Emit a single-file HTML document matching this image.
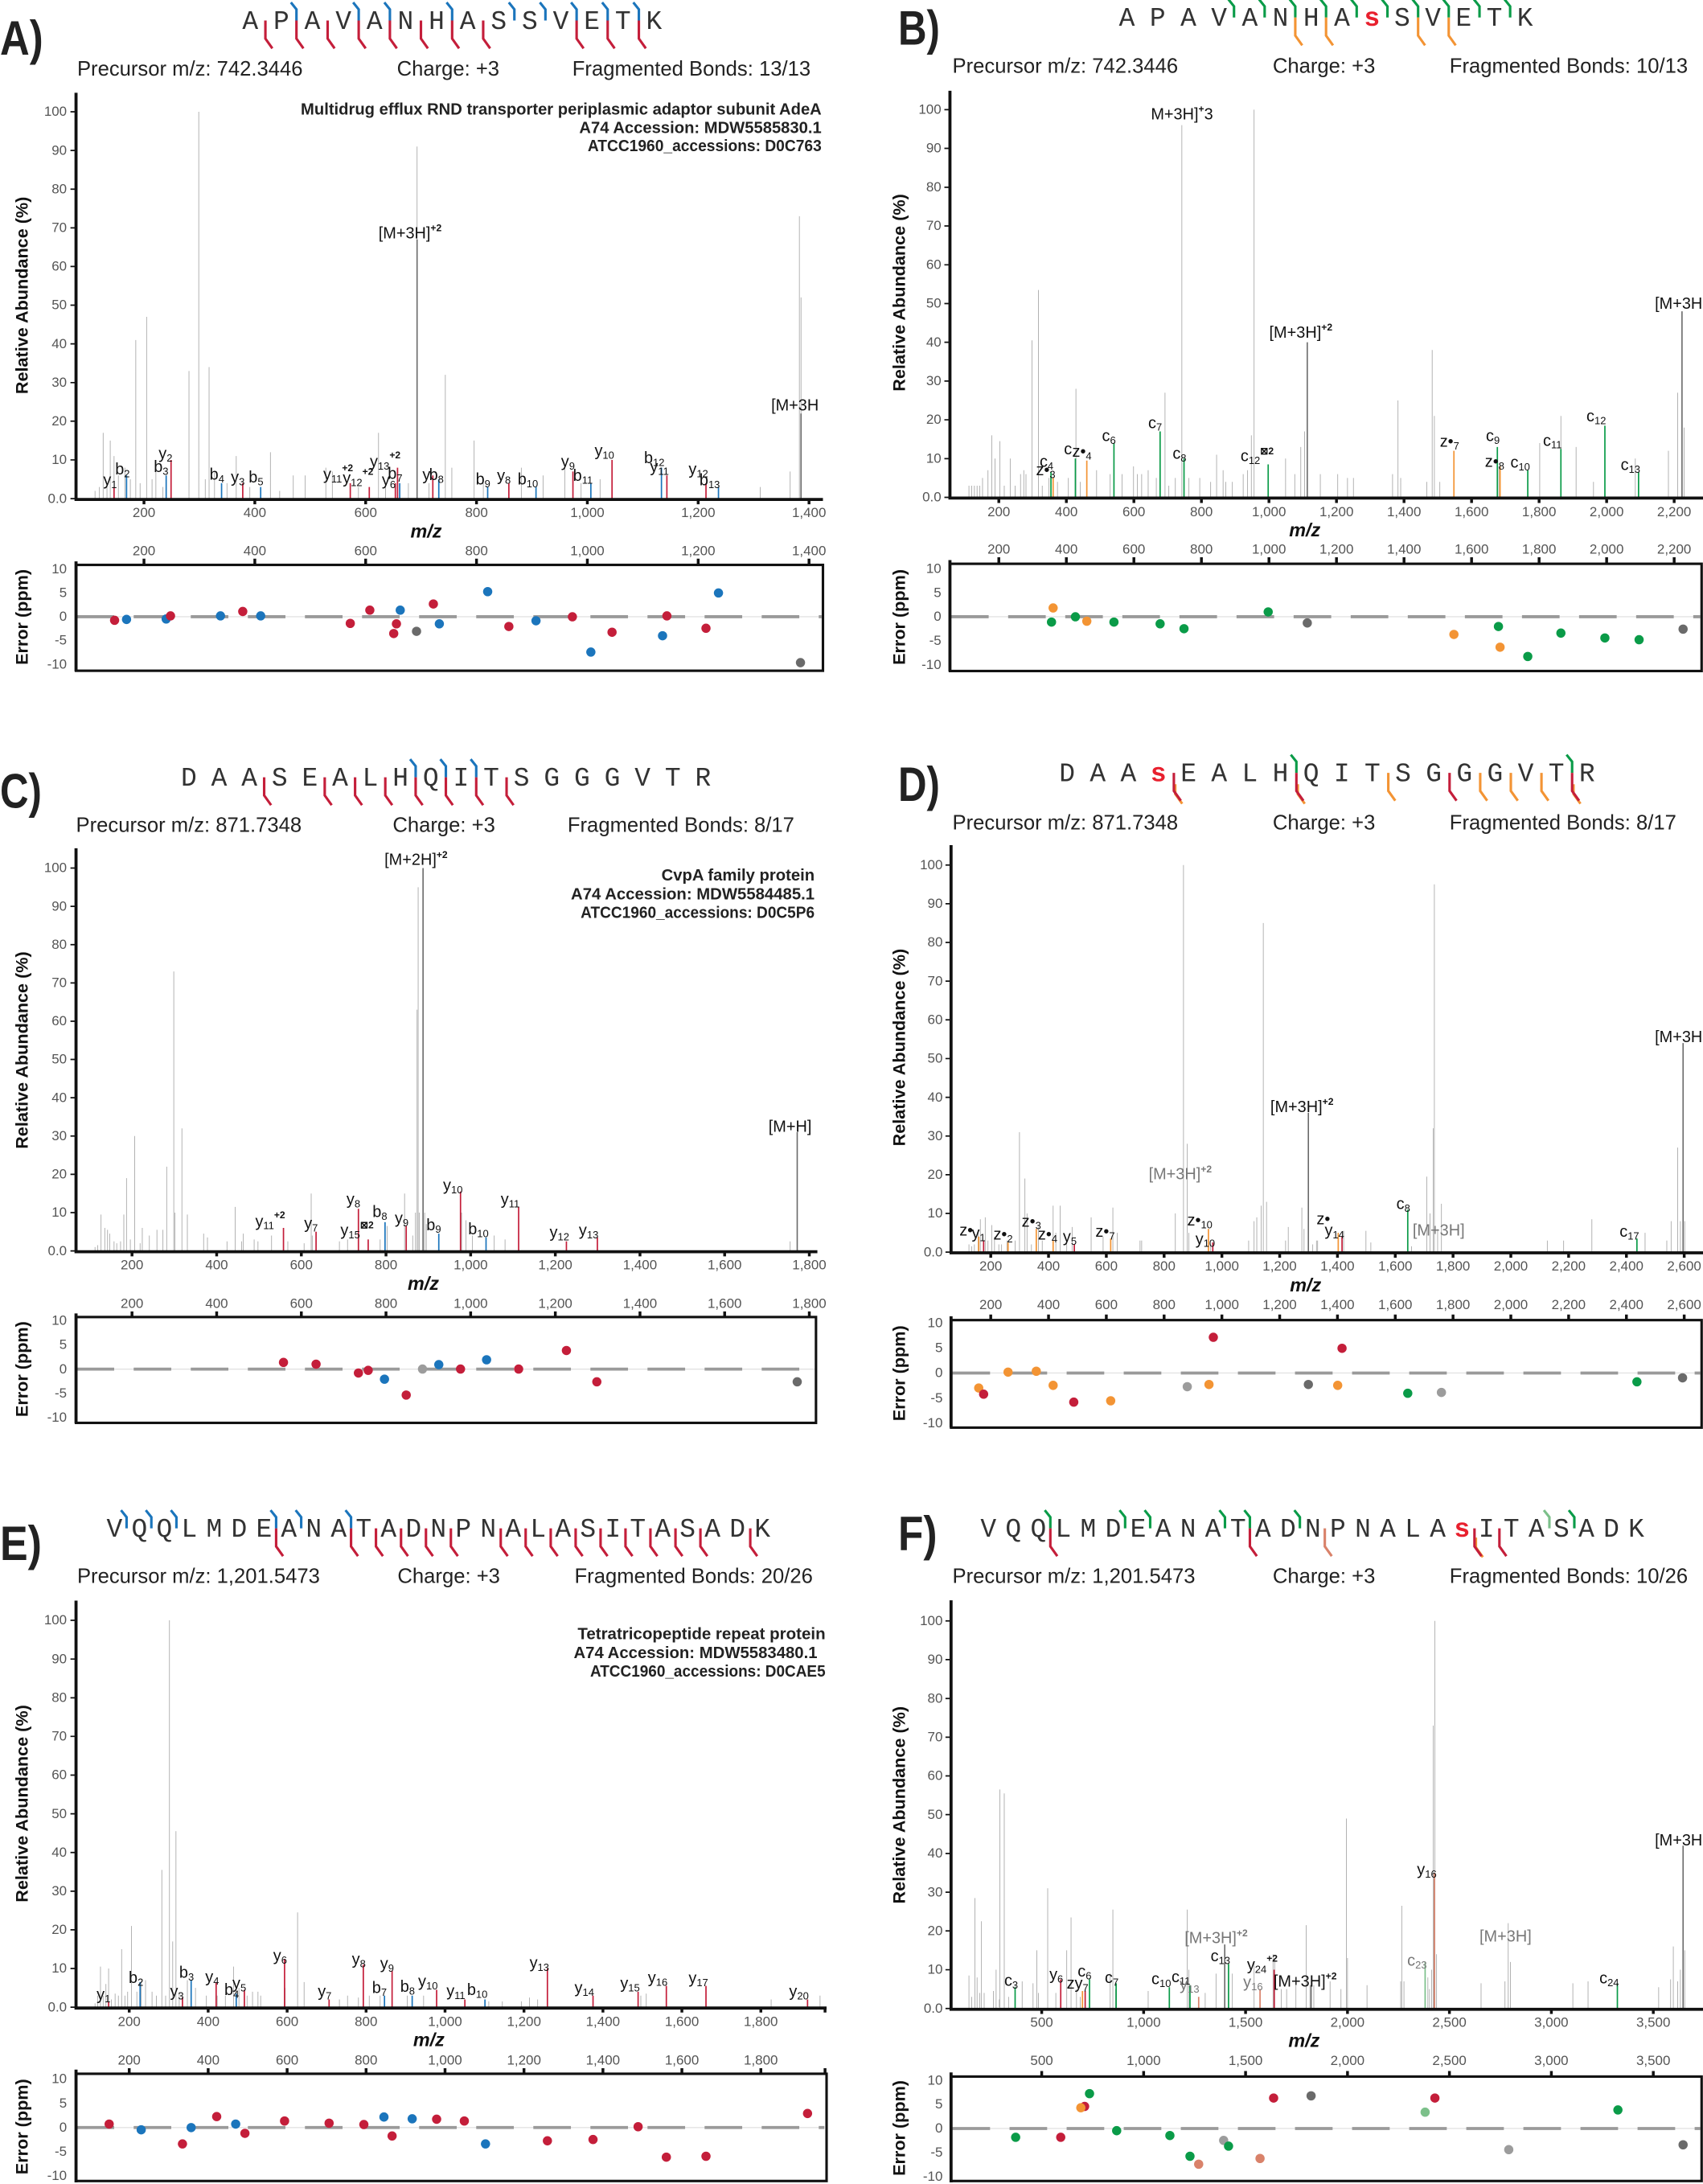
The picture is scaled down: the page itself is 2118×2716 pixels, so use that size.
<!DOCTYPE html>
<html><head><meta charset="utf-8"><style>
html,body{margin:0;padding:0;background:#fff}
svg{display:block}
text{font-family:"Liberation Sans",sans-serif}
.tk{font-size:9.8px;fill:#555}
.tke{font-size:9.8px;fill:#555;text-anchor:end}
.tkm{font-size:9.8px;fill:#555;text-anchor:middle}
.info{font-size:14.8px;fill:#222}
.ion{font-size:11.5px;fill:#111}
.s{font-size:7.5px}
.p{font-size:7px;font-weight:bold}
.seq{font-family:"Liberation Mono",monospace;font-size:19px;fill:#333}
.ps{font-family:"Liberation Sans",sans-serif;font-weight:bold;fill:#e8202e}
.ttl{font-size:12.5px;font-weight:bold;fill:#111;text-anchor:middle}
.mz{font-size:13.5px;font-weight:bold;font-style:italic;fill:#111;text-anchor:middle}
.pl{font-size:35px;font-weight:bold;fill:#222}
.prot{font-size:11.5px;font-weight:bold;fill:#222;text-anchor:end}
.gp{fill:none;stroke:#ababab;stroke-width:0.9}
.dp{fill:none;stroke:#6a6a6a;stroke-width:1.6}
.rp{fill:none;stroke:#c41e3a;stroke-width:1.7}
.bp{fill:none;stroke:#1b75bc;stroke-width:1.7}
.grp{fill:none;stroke:#0a9b48;stroke-width:1.7}
.op{fill:none;stroke:#f39434;stroke-width:1.7}
.sp{fill:none;stroke:#d9826a;stroke-width:1.7}
.lgp{fill:none;stroke:#7cc08a;stroke-width:1.7}
.mk{fill:none;stroke-width:1.8}
.ax{stroke:#111;stroke-width:2.2;fill:none}
.bx{stroke:#111;stroke-width:1.8;fill:none}
.zl{stroke:#9a9a9a;stroke-width:2.2;stroke-dasharray:27 14}
.zt{stroke:#e3e3e3;stroke-width:0.8}
.R{fill:#c41e3a}.B{fill:#1b75bc}.G{fill:#0a9b48}.O{fill:#f39434}.K{fill:#6a6a6a}.L{fill:#9c9c9c}.S{fill:#d9826a}.LG{fill:#7cc08a}
.gl{fill:#777}
</style></head><body>
<svg width="2118" height="2716" viewBox="0 0 1223 1568" xmlns="http://www.w3.org/2000/svg">

<!-- ================= PANEL A ================= -->
<text class="pl" x="0" y="39" textLength="31" lengthAdjust="spacingAndGlyphs">A)</text>
<text class="seq" x="174" y="20.6" textLength="301.4" lengthAdjust="spacing">A P A V A N H A S S V E T K</text>
<g class="mk" stroke="#1b75bc">
<path d="M212.9 14.6V6.6L208.9 1.6M257.6 14.6V6.6L253.6 1.6M280 14.6V6.6L276 1.6M324.7 14.6V6.6L320.7 1.6M369.4 14.6V6.6L365.4 1.6M391.7 14.6V6.6L387.7 1.6M414.1 14.6V6.6L410.1 1.6M436.4 14.6V6.6L432.4 1.6M458.8 14.6V6.6L454.8 1.6"/>
</g>
<g class="mk" stroke="#c41e3a">
<path d="M190.6 14.6V27.6L195.6 34.6M212.9 14.6V27.6L217.9 34.6M235.3 14.6V27.6L240.3 34.6M257.6 14.6V27.6L262.6 34.6M280 14.6V27.6L285 34.6M302.3 14.6V27.6L307.3 34.6M324.7 14.6V27.6L329.7 34.6M347 14.6V27.6L352 34.6M414.1 14.6V27.6L419.1 34.6M436.4 14.6V27.6L441.4 34.6M458.8 14.6V27.6L463.8 34.6"/>
</g>
<text class="info" x="55.4" y="54">Precursor m/z:  742.3446</text>
<text class="info" x="285" y="54">Charge: +3</text>
<text class="info" x="411" y="54">Fragmented Bonds: 13/13</text>
<text class="prot" x="590" y="82" textLength="374" lengthAdjust="spacingAndGlyphs">Multidrug efflux RND transporter periplasmic adaptor subunit AdeA</text>
<text class="prot" x="590" y="95.5" textLength="174" lengthAdjust="spacingAndGlyphs">A74 Accession: MDW5585830.1</text>
<text class="prot" x="590" y="108.5" textLength="168" lengthAdjust="spacingAndGlyphs">ATCC1960_accessions: D0C763</text>
<g transform="translate(0,357.9) scale(0.39,-2.778)">
<path vector-effect="non-scaling-stroke" class="gp" d="M175 0V2M183 0V3M190 0V17M197 0V4M203 0V15M210 0V11M218 0V6M230 0V8M240 0V5M250 0V41M258 0V4M270 0V47M280 0V5M287 0V10M300 0V3M348 0V33M366 0V100M378 0V5M385 0V34M395 0V7M418 0V4M435 0V11M460 0V3M498 0V12M515 0V2M540 0V6M562 0V6M600 0V8M612 0V7M660 0V3M697 0V17M710 0V3M752 0V4M768 0V91M790 0V4M820 0V32M832 0V8M873 0V15M890 0V4M960 0V8M1000 0V6M1040 0V8M1070 0V4M1105 0V5M1400 0V3M1455 0V7M1472 0V73M1475 0V52"/>
<path vector-effect="non-scaling-stroke" class="dp" d="M768 0V67M1475 0V22"/>
<path vector-effect="non-scaling-stroke" class="rp" d="M210 0V3M315 0V10M447 0V4M645 0V4M680 0V3M728 0V4M732 0V8M797 0V6M937 0V4M1055 0V7M1127 0V10M1228 0V6M1300 0V4"/>
<path vector-effect="non-scaling-stroke" class="bp" d="M233 0V6M306 0V6M408 0V4M480 0V3M736 0V4M808 0V5M898 0V3M987 0V3M1088 0V4M1218 0V8M1323 0V3"/>
</g>
<g class="ion">
<text x="74.1" y="348.4">y<tspan class="s" dy="2">1</tspan></text>
<text x="82.7" y="340.5">b<tspan class="s" dy="2">2</tspan></text>
<text x="110.4" y="338.9">b<tspan class="s" dy="2">3</tspan></text>
<text x="113.9" y="329.4">y<tspan class="s" dy="2">2</tspan></text>
<text x="150.5" y="344.2">b<tspan class="s" dy="2">4</tspan></text>
<text x="165.8" y="346.2">y<tspan class="s" dy="2">3</tspan></text>
<text x="178.6" y="346.2">b<tspan class="s" dy="2">5</tspan></text>
<text x="232.1" y="344.2">y<tspan class="s" dy="2">11</tspan><tspan class="p" dy="-8">+2</tspan></text>
<text x="246.1" y="346.8">y<tspan class="s" dy="2">12</tspan><tspan class="p" dy="-8">+2</tspan></text>
<text x="265.6" y="335.1">y<tspan class="s" dy="2">13</tspan><tspan class="p" dy="-8">+2</tspan></text>
<text x="274.2" y="348.4">y<tspan class="s" dy="2">6</tspan></text>
<text x="278.5" y="343.6">b<tspan class="s" dy="2">7</tspan></text>
<text x="303.4" y="344.6">y</text><text x="308.1" y="344.6">b<tspan class="s" dy="2">8</tspan></text>
<text x="341.6" y="347.7">b<tspan class="s" dy="2">9</tspan></text>
<text x="356.9" y="345.2">y<tspan class="s" dy="2">8</tspan></text>
<text x="371.7" y="347.7">b<tspan class="s" dy="2">10</tspan></text>
<text x="402.9" y="335.1">y<tspan class="s" dy="2">9</tspan></text>
<text x="411.5" y="345.2">b<tspan class="s" dy="2">11</tspan></text>
<text x="427" y="327.2">y<tspan class="s" dy="2">10</tspan></text>
<text x="462.5" y="332.5">b<tspan class="s" dy="2">12</tspan></text>
<text x="466.8" y="338.9">y<tspan class="s" dy="2">11</tspan></text>
<text x="494.5" y="340.5">y<tspan class="s" dy="2">12</tspan></text>
<text x="502.3" y="348.4">b<tspan class="s" dy="2">13</tspan></text>
<text x="271.8" y="171">[M+3H]<tspan class="p" dy="-5">+2</tspan></text>
<text x="553.8" y="294.5">[M+3H</text>
</g>
<path class="ax" d="M54.6 66.5V358.5H591"/>
<path stroke="#111" stroke-width="1" d="M50.6 357.9H54.6M50.6 330.1H54.6M50.6 302.3H54.6M50.6 274.6H54.6M50.6 246.8H54.6M50.6 219H54.6M50.6 191.2H54.6M50.6 163.5H54.6M50.6 135.7H54.6M50.6 107.9H54.6M50.6 80.1H54.6"/>
<g class="tke"><text x="48" y="361">0.0</text><text x="48" y="333">10</text><text x="48" y="305.3">20</text><text x="48" y="277.6">30</text><text x="48" y="249.8">40</text><text x="48" y="222">50</text><text x="48" y="194.2">60</text><text x="48" y="166.5">70</text><text x="48" y="138.7">80</text><text x="48" y="110.9">90</text><text x="48" y="83.1">100</text></g>
<path stroke="#111" stroke-width="2" d="M103.4 358V362M183 358V362M262.6 358V362M342.2 358V362M421.8 358V362M501.4 358V362M581 358V362M103.4 401V405M183 401V405M262.6 401V405M342.2 401V405M421.8 401V405M501.4 401V405M581 401V405"/>
<g class="tkm"><text x="103.4" y="371">200</text><text x="183" y="371">400</text><text x="262.6" y="371">600</text><text x="342.2" y="371">800</text><text x="421.8" y="371">1,000</text><text x="501.4" y="371">1,200</text><text x="581" y="371">1,400</text>
<text x="103.4" y="398.5">200</text><text x="183" y="398.5">400</text><text x="262.6" y="398.5">600</text><text x="342.2" y="398.5">800</text><text x="421.8" y="398.5">1,000</text><text x="501.4" y="398.5">1,200</text><text x="581" y="398.5">1,400</text></g>
<text class="mz" x="306" y="386">m/z</text>
<text class="ttl" transform="translate(20,212) rotate(-90)">Relative Abundance (%)</text>
<text class="ttl" transform="translate(20,443) rotate(-90)">Error (ppm)</text>
<line class="zt" x1="55" y1="442.7" x2="590" y2="442.7"/>
<line class="zl" x1="55" y1="442.7" x2="590" y2="442.7"/>
<rect class="bx" x="54.6" y="405.5" width="536.4" height="76"/>
<path class="ax" d="M54.6 403V482"/>
<g class="tke"><text x="48" y="411.5">10</text><text x="48" y="428.6">5</text><text x="48" y="445.7">0</text><text x="48" y="462.8">-5</text><text x="48" y="479.9">-10</text></g>
<g transform="translate(0,0) scale(0.39,0.3167)">
<ellipse class="R" cx="211" cy="1406" rx="8.5" ry="10.5"/><ellipse class="B" cx="233" cy="1404" rx="8.5" ry="10.5"/><ellipse class="B" cx="306" cy="1403" rx="8.5" ry="10.5"/><ellipse class="R" cx="314" cy="1396" rx="8.5" ry="10.5"/><ellipse class="B" cx="406" cy="1396" rx="8.5" ry="10.5"/><ellipse class="R" cx="447" cy="1386" rx="8.5" ry="10.5"/><ellipse class="B" cx="480" cy="1396" rx="8.5" ry="10.5"/><ellipse class="R" cx="645" cy="1413" rx="8.5" ry="10.5"/><ellipse class="R" cx="681" cy="1383" rx="8.5" ry="10.5"/><ellipse class="B" cx="737" cy="1383" rx="8.5" ry="10.5"/><ellipse class="R" cx="730" cy="1414" rx="8.5" ry="10.5"/><ellipse class="R" cx="725" cy="1436" rx="8.5" ry="10.5"/><ellipse class="K" cx="767" cy="1431" rx="8.5" ry="10.5"/><ellipse class="R" cx="798" cy="1369" rx="8.5" ry="10.5"/><ellipse class="B" cx="809" cy="1414" rx="8.5" ry="10.5"/><ellipse class="B" cx="898" cy="1341" rx="8.5" ry="10.5"/><ellipse class="R" cx="937" cy="1420" rx="8.5" ry="10.5"/><ellipse class="B" cx="987" cy="1407" rx="8.5" ry="10.5"/><ellipse class="R" cx="1054" cy="1398" rx="8.5" ry="10.5"/><ellipse class="B" cx="1088" cy="1478" rx="8.5" ry="10.5"/><ellipse class="R" cx="1127" cy="1433" rx="8.5" ry="10.5"/><ellipse class="B" cx="1220" cy="1441" rx="8.5" ry="10.5"/><ellipse class="R" cx="1228" cy="1396" rx="8.5" ry="10.5"/><ellipse class="R" cx="1300" cy="1424" rx="8.5" ry="10.5"/><ellipse class="B" cx="1323" cy="1344" rx="8.5" ry="10.5"/><ellipse class="K" cx="1474" cy="1502" rx="8.5" ry="10.5"/>
</g>

<!-- ================= PANEL B ================= -->
<text class="pl" x="645" y="32" textLength="30" lengthAdjust="spacingAndGlyphs">B)</text>
<text class="seq" x="803.6" y="18.4" textLength="297.3" lengthAdjust="spacing">A P A V A N H A <tspan class="ps">s</tspan> S V E T K</text>
<g class="mk" stroke="#0a9b48">
<path d="M886.2 12.4V4.4L882.2 -0.6M908.2 12.4V4.4L904.2 -0.6M930.2 12.4V4.4L926.2 -0.6M952.3 12.4V4.4L948.3 -0.6M974.3 12.4V4.4L970.3 -0.6M996.4 12.4V4.4L992.4 -0.6M1018.4 12.4V4.4L1014.4 -0.6M1040.4 12.4V4.4L1036.4 -0.6M1062.5 12.4V4.4L1058.5 -0.6M1084.5 12.4V4.4L1080.5 -0.6"/>
</g>
<g class="mk" stroke="#f39434">
<path d="M930.2 12.4V25.4L935.2 32.4M952.3 12.4V25.4L957.3 32.4M1018.4 12.4V25.4L1023.4 32.4M1040.4 12.4V25.4L1045.4 32.4"/>
</g>
<text class="info" x="684" y="52">Precursor m/z:  742.3446</text>
<text class="info" x="914" y="52">Charge: +3</text>
<text class="info" x="1041" y="52">Fragmented Bonds: 10/13</text>
<g transform="translate(612,357) scale(0.39,-2.784)">
<path vector-effect="non-scaling-stroke" class="gp" d="M215 0V3M220 0V3M225 0V3M230 0V3M235 0V3M240 0V5M250 0V7M257 0V16M263 0V10M272 0V14.5M280 0V3M291 0V10M300 0V3M310 0V6M316 0V7M320 0V6M331 0V40.5M343 0V53.5M350 0V3M362 0V5M378 0V4M398 0V5M412 0V28M420 0V4M450 0V7M475 0V6M497 0V6M518 0V8M525 0V6M533 0V6M545 0V7M560 0V5M576 0V27M583 0V3M595 0V5M607 0V96M620 0V5M640 0V5M660 0V4M671 0V11M683 0V7M688 0V4M700 0V4M720 0V6M728 0V7M735 0V16M740 0V100M798 0V10M815 0V6M826 0V13M833 0V17M862 0V6M894 0V6M912 0V5M923 0V5M995 0V6M1005 0V25M1010 0V5M1058 0V4M1068 0V38M1072 0V21M1082 0V4M1191 0V8M1266 0V14M1305 0V21M1333 0V13M1365 0V4M1442 0V10M1503 0V12M1520 0V27M1532 0V18"/>
<path vector-effect="non-scaling-stroke" class="dp" d="M838 0V40M1528 0V48"/>
<path vector-effect="non-scaling-stroke" class="grp" d="M366 0V6.5M411 0V10M482 0V14M567 0V17M611 0V10M766 0V8.5M1188 0V13M1244 0V7M1305 0V12.5M1386 0V18.5M1448 0V6.5"/>
<path vector-effect="non-scaling-stroke" class="op" d="M370 0V5M432 0V9.5M1108 0V12M1193 0V8"/>
</g>
<g class="ion">
<text x="746.6" y="335.1">c<tspan class="s" dy="2">4</tspan></text>
<text x="744" y="341">z•<tspan class="s" dy="2">3</tspan></text>
<text x="764.1" y="326.2">c</text><text x="770" y="327.8">z•<tspan class="s" dy="2">4</tspan></text>
<text x="791.4" y="316.7">c<tspan class="s" dy="2">6</tspan></text>
<text x="824.6" y="307.2">c<tspan class="s" dy="2">7</tspan></text>
<text x="842.1" y="329.4">c<tspan class="s" dy="2">8</tspan></text>
<text x="890.9" y="331">c<tspan class="s" dy="2">12</tspan><tspan class="p" dy="-7">⊠2</tspan></text>
<text x="1034" y="320.5">z•<tspan class="s" dy="2">7</tspan></text>
<text x="1067.1" y="316.7">c<tspan class="s" dy="2">9</tspan></text>
<text x="1066.4" y="335.1">z•<tspan class="s" dy="2">8</tspan></text>
<text x="1084.7" y="335.7">c<tspan class="s" dy="2">10</tspan></text>
<text x="1108.1" y="319.9">c<tspan class="s" dy="2">11</tspan></text>
<text x="1139.3" y="302.4">c<tspan class="s" dy="2">12</tspan></text>
<text x="1163.9" y="337.3">c<tspan class="s" dy="2">13</tspan></text>
<text x="826.5" y="85.5">M+3H]<tspan class="p" dy="-5">+</tspan><tspan dy="5">3</tspan></text>
<text x="911.5" y="242.3">[M+3H]<tspan class="p" dy="-5">+2</tspan></text>
<text x="1188.4" y="221.7">[M+3H</text>
</g>
<path class="ax" d="M682.2 65V357.5H1223"/>
<path stroke="#111" stroke-width="1" d="M678.2 357H682.2M678.2 329.2H682.2M678.2 301.3H682.2M678.2 273.5H682.2M678.2 245.6H682.2M678.2 217.8H682.2M678.2 190H682.2M678.2 162.1H682.2M678.2 134.3H682.2M678.2 106.4H682.2M678.2 78.6H682.2"/>
<g class="tke"><text x="676" y="360">0.0</text><text x="676" y="332.2">10</text><text x="676" y="304.3">20</text><text x="676" y="276.5">30</text><text x="676" y="248.6">40</text><text x="676" y="220.8">50</text><text x="676" y="193">60</text><text x="676" y="165.1">70</text><text x="676" y="137.3">80</text><text x="676" y="109.4">90</text><text x="676" y="81.6">100</text></g>
<path stroke="#111" stroke-width="2" d="M717.3 357V361M765.8 357V361M814.3 357V361M862.8 357V361M911.3 357V361M959.8 357V361M1008.3 357V361M1056.8 357V361M1105.3 357V361M1153.8 357V361M1202.3 357V361M717.3 400V404M765.8 400V404M814.3 400V404M862.8 400V404M911.3 400V404M959.8 400V404M1008.3 400V404M1056.8 400V404M1105.3 400V404M1153.8 400V404M1202.3 400V404"/>
<g class="tkm"><text x="717.3" y="370.5">200</text><text x="765.8" y="370.5">400</text><text x="814.3" y="370.5">600</text><text x="862.8" y="370.5">800</text><text x="911.3" y="370.5">1,000</text><text x="959.8" y="370.5">1,200</text><text x="1008.3" y="370.5">1,400</text><text x="1056.8" y="370.5">1,600</text><text x="1105.3" y="370.5">1,800</text><text x="1153.8" y="370.5">2,000</text><text x="1202.3" y="370.5">2,200</text>
<text x="717.3" y="397.5">200</text><text x="765.8" y="397.5">400</text><text x="814.3" y="397.5">600</text><text x="862.8" y="397.5">800</text><text x="911.3" y="397.5">1,000</text><text x="959.8" y="397.5">1,200</text><text x="1008.3" y="397.5">1,400</text><text x="1056.8" y="397.5">1,600</text><text x="1105.3" y="397.5">1,800</text><text x="1153.8" y="397.5">2,000</text><text x="1202.3" y="397.5">2,200</text></g>
<text class="mz" x="937" y="385">m/z</text>
<text class="ttl" transform="translate(650,210) rotate(-90)">Relative Abundance (%)</text>
<text class="ttl" transform="translate(650,443) rotate(-90)">Error (ppm)</text>
<line class="zt" x1="683" y1="442.7" x2="1221" y2="442.7"/>
<line class="zl" x1="683" y1="442.7" x2="1221" y2="442.7"/>
<rect class="bx" x="682.2" y="404.7" width="539.8" height="77"/>
<path class="ax" d="M682.2 402V482"/>
<g class="tke"><text x="676" y="411.2">10</text><text x="676" y="428.5">5</text><text x="676" y="445.7">0</text><text x="676" y="463">-5</text><text x="676" y="480.2">-10</text></g>
<g transform="translate(612,0) scale(0.39,0.3167)">
<ellipse class="O" cx="370" cy="1378" rx="8.5" ry="10.5"/><ellipse class="G" cx="367" cy="1410" rx="8.5" ry="10.5"/><ellipse class="G" cx="411" cy="1398" rx="8.5" ry="10.5"/><ellipse class="O" cx="432" cy="1408" rx="8.5" ry="10.5"/><ellipse class="G" cx="482" cy="1410" rx="8.5" ry="10.5"/><ellipse class="G" cx="567" cy="1414" rx="8.5" ry="10.5"/><ellipse class="G" cx="611" cy="1425" rx="8.5" ry="10.5"/><ellipse class="G" cx="766" cy="1387" rx="8.5" ry="10.5"/><ellipse class="K" cx="838" cy="1412" rx="8.5" ry="10.5"/><ellipse class="O" cx="1108" cy="1438" rx="8.5" ry="10.5"/><ellipse class="G" cx="1190" cy="1420" rx="8.5" ry="10.5"/><ellipse class="O" cx="1193" cy="1467" rx="8.5" ry="10.5"/><ellipse class="G" cx="1244" cy="1488" rx="8.5" ry="10.5"/><ellipse class="G" cx="1305" cy="1435" rx="8.5" ry="10.5"/><ellipse class="G" cx="1386" cy="1446" rx="8.5" ry="10.5"/><ellipse class="G" cx="1449" cy="1450" rx="8.5" ry="10.5"/><ellipse class="K" cx="1530" cy="1426" rx="8.5" ry="10.5"/>
</g>

<!-- ================= PANEL C ================= -->
<text class="pl" x="0" y="580" textLength="30" lengthAdjust="spacingAndGlyphs">C)</text>
<text class="seq" x="129.9" y="564" textLength="380.7" lengthAdjust="spacing">D A A S E A L H Q I T S G G G V T R</text>
<g class="mk" stroke="#1b75bc"><path d="M298.5 558V550L294.5 545M320.2 558V550L316.2 545M342 558V550L338 545"/></g>
<g class="mk" stroke="#c41e3a"><path d="M189.7 558V571L194.7 578M233.2 558V571L238.2 578M255 558V571L260 578M276.7 558V571L281.7 578M298.5 558V571L303.5 578M320.2 558V571L325.2 578M342 558V571L347 578M363.8 558V571L368.8 578"/></g>
<text class="info" x="54.6" y="597.2">Precursor m/z:  871.7348</text>
<text class="info" x="282" y="597.2">Charge: +3</text>
<text class="info" x="407.6" y="597.2">Fragmented Bonds: 8/17</text>
<text class="prot" x="585" y="632" textLength="110" lengthAdjust="spacingAndGlyphs">CvpA family protein</text>
<text class="prot" x="585" y="645.6" textLength="175" lengthAdjust="spacingAndGlyphs">A74 Accession: MDW5584485.1</text>
<text class="prot" x="585" y="659" textLength="168" lengthAdjust="spacingAndGlyphs">ATCC1960_accessions: D0C5P6</text>
<g transform="translate(0,898.1) scale(0.39,-2.749)">
<path vector-effect="non-scaling-stroke" class="gp" d="M175 0V1M180 0V1.5M186 0V9.5M193 0V6M198 0V5.5M202 0V4.5M210 0V2.5M215 0V2M222 0V2.5M228 0V9.5M233 0V19M240 0V3M248 0V30M258 0V2M262 0V6M275 0V4M289 0V5.5M300 0V5.5M307 0V22M320 0V73M322 0V10M335 0V32M345 0V9.5M375 0V4.5M382 0V3.5M418 0V2.5M433 0V11.5M445 0V2.5M448 0V4.5M468 0V3M475 0V2.5M500 0V4M530 0V2.5M560 0V2M573 0V15M575 0V4M625 0V2.5M640 0V3M700 0V3M713 0V6.5M745 0V15M760 0V4M765 0V10M768 0V63M770 0V95M772 0V10M782 0V10M785 0V7M850 0V10M858 0V8M870 0V4M910 0V4M930 0V3M1455 0V2.5"/>
<path vector-effect="non-scaling-stroke" class="dp" d="M779 0V100M1468 0V31"/>
<path vector-effect="non-scaling-stroke" class="rp" d="M522 0V6M582 0V5M660 0V11M678 0V3M748 0V6.5M848 0V15.5M955 0V11.5M1043 0V2.5M1100 0V3.5"/>
<path vector-effect="non-scaling-stroke" class="bp" d="M709 0V7.5M808 0V4.5M895 0V3.5"/>
</g>
<g class="ion">
<text x="183.3" y="880.6">y<tspan class="s" dy="2">11</tspan><tspan class="p" dy="-8">+2</tspan></text>
<text x="218.4" y="882.2">y<tspan class="s" dy="2">7</tspan></text>
<text x="248.8" y="864.8">y<tspan class="s" dy="2">8</tspan></text>
<text x="244.5" y="887">y<tspan class="s" dy="2">15</tspan><tspan class="p" dy="-7">⊠2</tspan></text>
<text x="267.5" y="873.7">b<tspan class="s" dy="2">8</tspan></text>
<text x="283.5" y="878.4">y<tspan class="s" dy="2">9</tspan></text>
<text x="306.2" y="883.2">b<tspan class="s" dy="2">9</tspan></text>
<text x="318.2" y="854.7">y<tspan class="s" dy="2">10</tspan></text>
<text x="336.2" y="886.3">b<tspan class="s" dy="2">10</tspan></text>
<text x="359.6" y="864.8">y<tspan class="s" dy="2">11</tspan></text>
<text x="394.7" y="888.6">y<tspan class="s" dy="2">12</tspan></text>
<text x="415.7" y="887">y<tspan class="s" dy="2">13</tspan></text>
<text x="276.1" y="620.9">[M+2H]<tspan class="p" dy="-5">+2</tspan></text>
<text x="551.9" y="812.6">[M+H]</text>
</g>
<path class="ax" d="M54.6 609V898.7H587"/>
<path stroke="#111" stroke-width="1" d="M50.6 898.1H54.6M50.6 870.6H54.6M50.6 843.1H54.6M50.6 815.6H54.6M50.6 788.1H54.6M50.6 760.6H54.6M50.6 733.2H54.6M50.6 705.7H54.6M50.6 678.2H54.6M50.6 650.7H54.6M50.6 623.2H54.6"/>
<g class="tke"><text x="48" y="901.1">0.0</text><text x="48" y="873.6">10</text><text x="48" y="846.1">20</text><text x="48" y="818.6">30</text><text x="48" y="791.1">40</text><text x="48" y="763.6">50</text><text x="48" y="736.2">60</text><text x="48" y="708.7">70</text><text x="48" y="681.2">80</text><text x="48" y="653.7">90</text><text x="48" y="626.2">100</text></g>
<path stroke="#111" stroke-width="2" d="M94.8 898V902M155.6 898V902M216.4 898V902M277.2 898V902M338 898V902M398.8 898V902M459.6 898V902M520.4 898V902M581.2 898V902M94.8 941.6V945.6M155.6 941.6V945.6M216.4 941.6V945.6M277.2 941.6V945.6M338 941.6V945.6M398.8 941.6V945.6M459.6 941.6V945.6M520.4 941.6V945.6M581.2 941.6V945.6"/>
<g class="tkm"><text x="94.8" y="911.4">200</text><text x="155.6" y="911.4">400</text><text x="216.4" y="911.4">600</text><text x="277.2" y="911.4">800</text><text x="338" y="911.4">1,000</text><text x="398.8" y="911.4">1,200</text><text x="459.6" y="911.4">1,400</text><text x="520.4" y="911.4">1,600</text><text x="581.2" y="911.4">1,800</text>
<text x="94.8" y="939">200</text><text x="155.6" y="939">400</text><text x="216.4" y="939">600</text><text x="277.2" y="939">800</text><text x="338" y="939">1,000</text><text x="398.8" y="939">1,200</text><text x="459.6" y="939">1,400</text><text x="520.4" y="939">1,600</text><text x="581.2" y="939">1,800</text></g>
<text class="mz" x="304" y="926">m/z</text>
<text class="ttl" transform="translate(20,754) rotate(-90)">Relative Abundance (%)</text>
<text class="ttl" transform="translate(20,983) rotate(-90)">Error (ppm)</text>
<line class="zt" x1="55" y1="983" x2="585" y2="983"/>
<line class="zl" x1="55" y1="983" x2="585" y2="983"/>
<rect class="bx" x="54.6" y="945.6" width="531.4" height="76"/>
<path class="ax" d="M54.6 943V1022"/>
<g class="tke"><text x="48" y="951.2">10</text><text x="48" y="968.6">5</text><text x="48" y="986">0</text><text x="48" y="1003.4">-5</text><text x="48" y="1020.8">-10</text></g>
<g transform="translate(0,519.6) scale(0.39,0.3167)">
<ellipse class="R" cx="522" cy="1448" rx="8.5" ry="10.5"/><ellipse class="R" cx="582" cy="1452" rx="8.5" ry="10.5"/><ellipse class="R" cx="660" cy="1472" rx="8.5" ry="10.5"/><ellipse class="R" cx="678" cy="1466" rx="8.5" ry="10.5"/><ellipse class="B" cx="708" cy="1486" rx="8.5" ry="10.5"/><ellipse class="R" cx="748" cy="1522" rx="8.5" ry="10.5"/><ellipse class="L" cx="778" cy="1463" rx="8.5" ry="10.5"/><ellipse class="B" cx="808" cy="1453" rx="8.5" ry="10.5"/><ellipse class="R" cx="848" cy="1463" rx="8.5" ry="10.5"/><ellipse class="B" cx="896" cy="1442" rx="8.5" ry="10.5"/><ellipse class="R" cx="955" cy="1463" rx="8.5" ry="10.5"/><ellipse class="R" cx="1043" cy="1421" rx="8.5" ry="10.5"/><ellipse class="R" cx="1099" cy="1492" rx="8.5" ry="10.5"/><ellipse class="K" cx="1468" cy="1492" rx="8.5" ry="10.5"/>
</g>

<!-- ================= PANEL D ================= -->
<text class="pl" x="645" y="575" textLength="30" lengthAdjust="spacingAndGlyphs">D)</text>
<text class="seq" x="760.6" y="560.8" textLength="384.8" lengthAdjust="spacing">D A A <tspan class="ps">s</tspan> E A L H Q I T S G G G V T R</text>
<g class="mk" stroke="#0a9b48"><path d="M931 554.8V546.8L927 541.8M1129 554.8V546.8L1125 541.8"/></g>
<g class="mk" stroke="#f39434"><path d="M844 563V570L849 577M932 563V570L937 577M997 554.8V567.8L1002 574.8M1063 554.8V567.8L1068 574.8M1085 554.8V567.8L1090 574.8M1107 554.8V567.8L1112 574.8M1130 563V570L1135 577"/></g>
<g class="mk" stroke="#c41e3a"><path d="M843 554.8V567.8L848 574.8M931 554.8V567.8L936 574.8M1041 554.8V567.8L1046 574.8M1129 554.8V567.8L1134 574.8"/></g>
<text class="info" x="684" y="595.6">Precursor m/z:  871.7348</text>
<text class="info" x="914" y="595.6">Charge: +3</text>
<text class="info" x="1041" y="595.6">Fragmented Bonds: 8/17</text>
<g transform="translate(612,899) scale(0.39,-2.78)">
<path vector-effect="non-scaling-stroke" class="gp" d="M215 0V2M220 0V1.5M225 0V2M232 0V5M236 0V8.5M245 0V9M250 0V3M257 0V7M262 0V4M270 0V2M275 0V2M285 0V3M300 0V3M308 0V31M318 0V19M322 0V10M330 0V2M343 0V6.5M350 0V3M370 0V12M375 0V5M383 0V12M395 0V3M405 0V6.5M440 0V9M462 0V4M480 0V11.5M488 0V5M530 0V3M533 0V3M595 0V10M610 0V100M617 0V28M620 0V5M660 0V2M730 0V3M740 0V8M745 0V9M753 0V12M757 0V85M763 0V13M798 0V3M803 0V6.5M828 0V11.5M832 0V6M848 0V2M855 0V3M857 0V3M905 0V5.5M946 0V5.5M955 0V2.5M1030 0V1.5M1058 0V19.5M1064 0V10M1070 0V32M1072 0V95M1078 0V6M1085 0V12.5M1280 0V3M1310 0V3M1362 0V8.5M1460 0V5M1500 0V3M1508 0V8M1520 0V27M1525 0V8M1533 0V8"/>
<path vector-effect="non-scaling-stroke" class="dp" d="M840 0V36M1530 0V54"/>
<path vector-effect="non-scaling-stroke" class="op" d="M233 0V4M287 0V2.5M339 0V6M370 0V3M476 0V3.5M656 0V6M895 0V5"/>
<path vector-effect="non-scaling-stroke" class="rp" d="M242 0V3M409 0V2M664 0V2.5M902 0V4"/>
<path vector-effect="non-scaling-stroke" class="grp" d="M1023 0V11M1445 0V3.5"/>
</g>
<g class="ion">
<text x="689" y="887">z•</text><text x="697.8" y="889">y<tspan class="s" dy="2">1</tspan></text>
<text x="713.4" y="890.1">z•<tspan class="s" dy="2">2</tspan></text>
<text x="733.7" y="880.6">z•<tspan class="s" dy="2">3</tspan></text>
<text x="745.4" y="890.1">z•<tspan class="s" dy="2">4</tspan></text>
<text x="763.3" y="891.7">y<tspan class="s" dy="2">5</tspan></text>
<text x="786.7" y="887.9">z•<tspan class="s" dy="2">7</tspan></text>
<text x="852.6" y="880">z•<tspan class="s" dy="2">10</tspan></text>
<text x="858.5" y="893.3">y<tspan class="s" dy="2">10</tspan></text>
<text x="945.5" y="879">z•</text><text x="951.3" y="887">y<tspan class="s" dy="2">14</tspan></text>
<text x="1002.8" y="868">c<tspan class="s" dy="2">8</tspan></text>
<text x="1163.1" y="887.9">c<tspan class="s" dy="2">17</tspan></text>
<text x="912.3" y="798.3">[M+3H]<tspan class="p" dy="-5">+2</tspan></text>
<text x="1188.4" y="748.3">[M+3H</text>
</g>
<g class="ion gl">
<text x="824.9" y="846.8">[M+3H]<tspan class="p" dy="-5">+2</tspan></text>
<text x="1014.5" y="887">[M+3H]</text>
</g>
<path class="ax" d="M683 606.7V899.5H1223"/>
<path stroke="#111" stroke-width="1" d="M679 899H683M679 871.2H683M679 843.4H683M679 815.6H683M679 787.8H683M679 760H683M679 732.2H683M679 704.4H683M679 676.6H683M679 648.8H683M679 621H683"/>
<g class="tke"><text x="677" y="902">0.0</text><text x="677" y="874.2">10</text><text x="677" y="846.4">20</text><text x="677" y="818.6">30</text><text x="677" y="790.8">40</text><text x="677" y="763">50</text><text x="677" y="735.2">60</text><text x="677" y="707.4">70</text><text x="677" y="679.6">80</text><text x="677" y="651.8">90</text><text x="677" y="624">100</text></g>
<path stroke="#111" stroke-width="2" d="M711.5 899V903M753 899V903M794.5 899V903M836 899V903M877.5 899V903M919 899V903M960.5 899V903M1002 899V903M1043.5 899V903M1085 899V903M1126.5 899V903M1168 899V903M1209.5 899V903M711.5 943.8V947.8M753 943.8V947.8M794.5 943.8V947.8M836 943.8V947.8M877.5 943.8V947.8M919 943.8V947.8M960.5 943.8V947.8M1002 943.8V947.8M1043.5 943.8V947.8M1085 943.8V947.8M1126.5 943.8V947.8M1168 943.8V947.8M1209.5 943.8V947.8"/>
<g class="tkm"><text x="711.5" y="912.3">200</text><text x="753" y="912.3">400</text><text x="794.5" y="912.3">600</text><text x="836" y="912.3">800</text><text x="877.5" y="912.3">1,000</text><text x="919" y="912.3">1,200</text><text x="960.5" y="912.3">1,400</text><text x="1002" y="912.3">1,600</text><text x="1043.5" y="912.3">1,800</text><text x="1085" y="912.3">2,000</text><text x="1126.5" y="912.3">2,200</text><text x="1168" y="912.3">2,400</text><text x="1209.5" y="912.3">2,600</text>
<text x="711.5" y="939.9">200</text><text x="753" y="939.9">400</text><text x="794.5" y="939.9">600</text><text x="836" y="939.9">800</text><text x="877.5" y="939.9">1,000</text><text x="919" y="939.9">1,200</text><text x="960.5" y="939.9">1,400</text><text x="1002" y="939.9">1,600</text><text x="1043.5" y="939.9">1,800</text><text x="1085" y="939.9">2,000</text><text x="1126.5" y="939.9">2,200</text><text x="1168" y="939.9">2,400</text><text x="1209.5" y="939.9">2,600</text></g>
<text class="mz" x="937.6" y="927.2">m/z</text>
<text class="ttl" transform="translate(650,752) rotate(-90)">Relative Abundance (%)</text>
<text class="ttl" transform="translate(650,986) rotate(-90)">Error (ppm)</text>
<line class="zt" x1="684" y1="985.8" x2="1221" y2="985.8"/>
<line class="zl" x1="684" y1="985.8" x2="1221" y2="985.8"/>
<rect class="bx" x="683" y="947.8" width="539" height="77.2"/>
<path class="ax" d="M683 945V1025"/>
<g class="tke"><text x="677" y="952.8">10</text><text x="677" y="970.8">5</text><text x="677" y="988.8">0</text><text x="677" y="1006.8">-5</text><text x="677" y="1024.8">-10</text></g>
<g transform="translate(612,519.6) scale(0.39,0.3167)">
<ellipse class="O" cx="233" cy="1506" rx="8.5" ry="10.5"/><ellipse class="R" cx="242" cy="1520" rx="8.5" ry="10.5"/><ellipse class="O" cx="287" cy="1470" rx="8.5" ry="10.5"/><ellipse class="O" cx="339" cy="1468" rx="8.5" ry="10.5"/><ellipse class="O" cx="370" cy="1500" rx="8.5" ry="10.5"/><ellipse class="R" cx="408" cy="1538" rx="8.5" ry="10.5"/><ellipse class="O" cx="476" cy="1535" rx="8.5" ry="10.5"/><ellipse class="L" cx="617" cy="1503" rx="8.5" ry="10.5"/><ellipse class="O" cx="657" cy="1498" rx="8.5" ry="10.5"/><ellipse class="R" cx="665" cy="1391" rx="8.5" ry="10.5"/><ellipse class="K" cx="840" cy="1498" rx="8.5" ry="10.5"/><ellipse class="O" cx="894" cy="1500" rx="8.5" ry="10.5"/><ellipse class="R" cx="902" cy="1416" rx="8.5" ry="10.5"/><ellipse class="G" cx="1023" cy="1518" rx="8.5" ry="10.5"/><ellipse class="L" cx="1085" cy="1516" rx="8.5" ry="10.5"/><ellipse class="G" cx="1445" cy="1492" rx="8.5" ry="10.5"/><ellipse class="K" cx="1529" cy="1483" rx="8.5" ry="10.5"/>
</g>

<!-- ================= PANEL E ================= -->
<text class="pl" x="0" y="1120" textLength="30" lengthAdjust="spacingAndGlyphs">E)</text>
<text class="seq" x="76.5" y="1103.3" textLength="476.7" lengthAdjust="spacing">V Q Q L M D E A N A T A D N P N A L A S I T A S A D K</text>
<g class="mk" stroke="#1b75bc"><path d="M90.9 1097.3V1089.3L86.9 1084.3M108.7 1097.3V1089.3L104.7 1084.3M126.7 1097.3V1089.3L122.7 1084.3M198.3 1097.3V1089.3L194.3 1084.3M216.3 1097.3V1089.3L212.3 1084.3M252.1 1097.3V1089.3L248.1 1084.3"/></g>
<g class="mk" stroke="#c41e3a"><path d="M198.3 1097.3V1110.3L203.3 1117.3M252.1 1097.3V1110.3L257.1 1117.3M270 1097.3V1110.3L275 1117.3M288 1097.3V1110.3L293 1117.3M305.9 1097.3V1110.3L310.9 1117.3M323.8 1097.3V1110.3L328.8 1117.3M359.6 1097.3V1110.3L364.6 1117.3M377.5 1097.3V1110.3L382.5 1117.3M395.5 1097.3V1110.3L400.5 1117.3M413.4 1097.3V1110.3L418.4 1117.3M431.3 1097.3V1110.3L436.3 1117.3M449.2 1097.3V1110.3L454.2 1117.3M467.1 1097.3V1110.3L472.1 1117.3M485.1 1097.3V1110.3L490.1 1117.3M503 1097.3V1110.3L508 1117.3M538.8 1097.3V1110.3L543.8 1117.3"/></g>
<text class="info" x="55.4" y="1136.5">Precursor m/z:  1,201.5473</text>
<text class="info" x="285.5" y="1136.5">Charge: +3</text>
<text class="info" x="412.6" y="1136.5">Fragmented Bonds: 20/26</text>
<text class="prot" x="592.8" y="1177" textLength="178" lengthAdjust="spacingAndGlyphs">Tetratricopeptide repeat protein</text>
<text class="prot" x="587" y="1190.4" textLength="175" lengthAdjust="spacingAndGlyphs">A74 Accession: MDW5583480.1</text>
<text class="prot" x="592.8" y="1203.7" textLength="169" lengthAdjust="spacingAndGlyphs">ATCC1960_accessions: D0CAE5</text>
<g transform="translate(0,1441.2) scale(0.39,-2.778)">
<path vector-effect="non-scaling-stroke" class="gp" d="M175 0V1M180 0V3M185 0V10.5M190 0V3M195 0V6M200 0V10M205 0V2M212 0V3.5M218 0V3M224 0V15M230 0V3M235 0V4M242 0V21M252 0V4M260 0V7M268 0V7M280 0V4M288 0V3M298 0V35.5M305 0V3M312 0V100M318 0V17M324 0V45.5M330 0V4M345 0V7M360 0V5M380 0V3M400 0V3M415 0V3M430 0V10.5M440 0V5M455 0V3M465 0V4M475 0V4M480 0V3M525 0V5M548 0V24.5M560 0V6.5M625 0V2M640 0V3M660 0V2.5M680 0V3M700 0V3M750 0V3M780 0V3M900 0V1.5M925 0V1.5M960 0V1.5M975 0V2.5M990 0V2M1180 0V3M1190 0V3.5M1420 0V2M1510 0V3M1840 0V2"/>
<path vector-effect="non-scaling-stroke" class="rp" d="M200 0V1.5M336 0V2.5M398 0V6.5M450 0V4.5M524 0V12.5M606 0V2M669 0V11M722 0V9.5M804 0V4.5M856 0V2M1008 0V10M1092 0V3M1175 0V4M1227 0V5.5M1300 0V5.5M1487 0V2"/>
<path vector-effect="non-scaling-stroke" class="bp" d="M258 0V6.5M352 0V7M435 0V3.5M708 0V3M759 0V3M893 0V2"/>
</g>
<g class="ion">
<text x="69.4" y="1435.8">y<tspan class="s" dy="2">1</tspan></text>
<text x="92.4" y="1423.8">b<tspan class="s" dy="2">2</tspan></text>
<text x="122.1" y="1433.6">y<tspan class="s" dy="2">3</tspan></text>
<text x="128.7" y="1420">b<tspan class="s" dy="2">3</tspan></text>
<text x="147.4" y="1423.1">y<tspan class="s" dy="2">4</tspan></text>
<text x="161.1" y="1432.6">b<tspan class="s" dy="2">4</tspan></text>
<text x="166.9" y="1427.9">y<tspan class="s" dy="2">5</tspan></text>
<text x="196.2" y="1407.9">y<tspan class="s" dy="2">6</tspan></text>
<text x="228.2" y="1433.6">y<tspan class="s" dy="2">7</tspan></text>
<text x="252.7" y="1410.5">y<tspan class="s" dy="2">8</tspan></text>
<text x="267.2" y="1431">b<tspan class="s" dy="2">7</tspan></text>
<text x="273" y="1413.6">y<tspan class="s" dy="2">9</tspan></text>
<text x="287.4" y="1430.1">b<tspan class="s" dy="2">8</tspan></text>
<text x="300.3" y="1426.3">y<tspan class="s" dy="2">10</tspan></text>
<text x="320.6" y="1433.3">y<tspan class="s" dy="2">11</tspan></text>
<text x="335.4" y="1432.6">b<tspan class="s" dy="2">10</tspan></text>
<text x="380.3" y="1413">y<tspan class="s" dy="2">13</tspan></text>
<text x="412.6" y="1431">y<tspan class="s" dy="2">14</tspan></text>
<text x="445.4" y="1427.9">y<tspan class="s" dy="2">15</tspan></text>
<text x="465.3" y="1423.8">y<tspan class="s" dy="2">16</tspan></text>
<text x="494.5" y="1424.1">y<tspan class="s" dy="2">17</tspan></text>
<text x="566.7" y="1433.6">y<tspan class="s" dy="2">20</tspan></text>
</g>
<path class="ax" d="M54.6 1149.2V1441.8H593.6"/>
<path stroke="#111" stroke-width="1" d="M50.6 1441.2H54.6M50.6 1413.4H54.6M50.6 1385.6H54.6M50.6 1357.9H54.6M50.6 1330.1H54.6M50.6 1302.3H54.6M50.6 1274.5H54.6M50.6 1246.7H54.6M50.6 1219H54.6M50.6 1191.2H54.6M50.6 1163.4H54.6"/>
<g class="tke"><text x="48" y="1444.2">0.0</text><text x="48" y="1416.4">10</text><text x="48" y="1388.6">20</text><text x="48" y="1360.9">30</text><text x="48" y="1333.1">40</text><text x="48" y="1305.3">50</text><text x="48" y="1277.5">60</text><text x="48" y="1249.7">70</text><text x="48" y="1222">80</text><text x="48" y="1194.2">90</text><text x="48" y="1166.4">100</text></g>
<path stroke="#111" stroke-width="2" d="M92.8 1441V1445M149.5 1441V1445M206.2 1441V1445M262.9 1441V1445M319.6 1441V1445M376.3 1441V1445M433 1441V1445M489.7 1441V1445M546.4 1441V1445M592.5 1441V1445M92.8 1485V1489M149.5 1485V1489M206.2 1485V1489M262.9 1485V1489M319.6 1485V1489M376.3 1485V1489M433 1485V1489M489.7 1485V1489M546.4 1485V1489M592.5 1485V1489"/>
<g class="tkm"><text x="92.8" y="1454.8">200</text><text x="149.5" y="1454.8">400</text><text x="206.2" y="1454.8">600</text><text x="262.9" y="1454.8">800</text><text x="319.6" y="1454.8">1,000</text><text x="376.3" y="1454.8">1,200</text><text x="433" y="1454.8">1,400</text><text x="489.7" y="1454.8">1,600</text><text x="546.4" y="1454.8">1,800</text>
<text x="92.8" y="1482.4">200</text><text x="149.5" y="1482.4">400</text><text x="206.2" y="1482.4">600</text><text x="262.9" y="1482.4">800</text><text x="319.6" y="1482.4">1,000</text><text x="376.3" y="1482.4">1,200</text><text x="433" y="1482.4">1,400</text><text x="489.7" y="1482.4">1,600</text><text x="546.4" y="1482.4">1,800</text></g>
<text class="mz" x="308" y="1469">m/z</text>
<text class="ttl" transform="translate(20,1295) rotate(-90)">Relative Abundance (%)</text>
<text class="ttl" transform="translate(20,1527) rotate(-90)">Error (ppm)</text>
<line class="zt" x1="55" y1="1527.6" x2="592" y2="1527.6"/>
<line class="zl" x1="55" y1="1527.6" x2="592" y2="1527.6"/>
<rect class="bx" x="54.6" y="1489" width="539" height="77"/>
<path class="ax" d="M54.6 1486V1567"/>
<g class="tke"><text x="48" y="1495.8">10</text><text x="48" y="1513.2">5</text><text x="48" y="1530.6">0</text><text x="48" y="1548">-5</text><text x="48" y="1565.4">-10</text></g>
<g transform="translate(0,1071.6) scale(0.39,0.3167)">
<ellipse class="R" cx="201" cy="1432" rx="8.5" ry="10.5"/><ellipse class="B" cx="260" cy="1445" rx="8.5" ry="10.5"/><ellipse class="R" cx="336" cy="1477" rx="8.5" ry="10.5"/><ellipse class="B" cx="352" cy="1440" rx="8.5" ry="10.5"/><ellipse class="R" cx="399" cy="1415" rx="8.5" ry="10.5"/><ellipse class="B" cx="434" cy="1432" rx="8.5" ry="10.5"/><ellipse class="R" cx="451" cy="1453" rx="8.5" ry="10.5"/><ellipse class="R" cx="524" cy="1425" rx="8.5" ry="10.5"/><ellipse class="R" cx="606" cy="1430" rx="8.5" ry="10.5"/><ellipse class="R" cx="670" cy="1433" rx="8.5" ry="10.5"/><ellipse class="B" cx="707" cy="1416" rx="8.5" ry="10.5"/><ellipse class="R" cx="722" cy="1459" rx="8.5" ry="10.5"/><ellipse class="B" cx="759" cy="1420" rx="8.5" ry="10.5"/><ellipse class="R" cx="804" cy="1421" rx="8.5" ry="10.5"/><ellipse class="R" cx="855" cy="1425" rx="8.5" ry="10.5"/><ellipse class="B" cx="894" cy="1477" rx="8.5" ry="10.5"/><ellipse class="R" cx="1008" cy="1470" rx="8.5" ry="10.5"/><ellipse class="R" cx="1092" cy="1467" rx="8.5" ry="10.5"/><ellipse class="R" cx="1175" cy="1438" rx="8.5" ry="10.5"/><ellipse class="R" cx="1227" cy="1507" rx="8.5" ry="10.5"/><ellipse class="R" cx="1300" cy="1505" rx="8.5" ry="10.5"/><ellipse class="R" cx="1487" cy="1408" rx="8.5" ry="10.5"/>
</g>

<!-- ================= PANEL F ================= -->
<text class="pl" x="645" y="1113" textLength="28" lengthAdjust="spacingAndGlyphs">F)</text>
<text class="seq" x="704.1" y="1103.3" textLength="476.7" lengthAdjust="spacing">V Q Q L M D E A N A T A D N P N A L A <tspan class="ps">s</tspan> I T A S A D K</text>
<g class="mk" stroke="#0a9b48"><path d="M754.3 1097.3V1089.3L750.3 1084.3M808 1097.3V1089.3L804 1084.3M826 1097.3V1089.3L822 1084.3M879.7 1097.3V1089.3L875.7 1084.3M897.6 1097.3V1089.3L893.6 1084.3M933.5 1097.3V1089.3L929.5 1084.3M1130.6 1097.3V1089.3L1126.6 1084.3"/></g>
<g class="mk" stroke="#7cc08a"><path d="M1112.7 1097.3V1089.3L1108.7 1084.3"/></g>
<g class="mk" stroke="#f39434"><path d="M1059.9 1104V1111L1064.9 1118"/></g>
<g class="mk" stroke="#c41e3a"><path d="M754.3 1097.3V1110.3L759.3 1117.3M897.6 1097.3V1110.3L902.6 1117.3M1058.9 1097.3V1110.3L1063.9 1117.3M1076.8 1097.3V1110.3L1081.8 1117.3"/></g>
<g class="mk" stroke="#d9826a"><path d="M951.4 1097.3V1110.3L956.4 1117.3"/></g>
<text class="info" x="684" y="1136.5">Precursor m/z:  1,201.5473</text>
<text class="info" x="914" y="1136.5">Charge: +3</text>
<text class="info" x="1041" y="1136.5">Fragmented Bonds: 10/26</text>
<g transform="translate(612,1442.1) scale(0.39,-2.783)">
<path vector-effect="non-scaling-stroke" class="gp" d="M215 0V8.5M220 0V3M226 0V28.5M230 0V8M235 0V4M238 0V22.5M243 0V4M260 0V4.5M265 0V10M272 0V56.5M280 0V55.5M288 0V3M300 0V6M313 0V7M333 0V6.5M340 0V15M343 0V4M360 0V31M375 0V4M395 0V15M403 0V23.5M413 0V5M420 0V3M475 0V9M480 0V25.5M485 0V5M545 0V4.5M617 0V25.5M620 0V10M650 0V4M670 0V9M700 0V9M740 0V12M775 0V14M778 0V13M790 0V5M800 0V5M817 0V6M836 0V21.5M843 0V6M850 0V6M880 0V7M900 0V5M910 0V49M912 0V13M948 0V6M1010 0V7M1012 0V26.5M1016 0V7M1060 0V8M1063 0V5M1067 0V10M1070 0V73M1073 0V100M1076 0V14M1158 0V6.5M1202 0V7M1208 0V22M1212 0V12M1327 0V6.5M1355 0V7M1485 0V5.5M1507 0V7.5M1512 0V16M1520 0V7M1525 0V10M1533 0V15"/>
<path vector-effect="non-scaling-stroke" class="dp" d="M686 0V16.5M845 0V6M1530 0V42"/>
<path vector-effect="non-scaling-stroke" class="grp" d="M300 0V5.5M437 0V7.5M486 0V6.5M584 0V5.5M622 0V6M693 0V11.5M1409 0V6.5"/>
<path vector-effect="non-scaling-stroke" class="rp" d="M384 0V7.5M429 0V4.5M777 0V10"/>
<path vector-effect="non-scaling-stroke" class="op" d="M424 0V4.5"/>
<path vector-effect="non-scaling-stroke" class="sp" d="M638 0V3M751 0V5M1072 0V35"/>
<path vector-effect="non-scaling-stroke" class="lgp" d="M1055 0V12"/>
</g>
<g class="ion">
<text x="721.2" y="1425.7">c<tspan class="s" dy="2">3</tspan></text>
<text x="753.6" y="1421.6">y<tspan class="s" dy="2">6</tspan></text>
<text x="766" y="1427.9">zy<tspan class="s" dy="2">7</tspan></text>
<text x="773.9" y="1419.3">c<tspan class="s" dy="2">6</tspan></text>
<text x="793.4" y="1423.8">c<tspan class="s" dy="2">7</tspan></text>
<text x="826.9" y="1424.7">c<tspan class="s" dy="2">10</tspan></text>
<text x="841.3" y="1423.1">c<tspan class="s" dy="2">11</tspan></text>
<text x="869.4" y="1408.3">c<tspan class="s" dy="2">13</tspan></text>
<text x="895.5" y="1414.6">y<tspan class="s" dy="2">24</tspan><tspan class="p" dy="-8">+2</tspan></text>
<text x="914.6" y="1426.3">[M+3H]<tspan class="p" dy="-5">+2</tspan></text>
<text x="1017.6" y="1346.2">y<tspan class="s" dy="2">16</tspan></text>
<text x="1148.6" y="1424.1">c<tspan class="s" dy="2">24</tspan></text>
<text x="1188.4" y="1325">[M+3H</text>
</g>
<g class="ion gl">
<text x="847.2" y="1428.8">y<tspan class="s" dy="2">13</tspan></text>
<text x="850.7" y="1395.3">[M+3H]<tspan class="p" dy="-5">+2</tspan></text>
<text x="892.8" y="1426.9">y<tspan class="s" dy="2">16</tspan></text>
<text x="1010.6" y="1411.4">c<tspan class="s" dy="2">23</tspan></text>
<text x="1062.5" y="1394">[M+3H]</text>
</g>
<path class="ax" d="M683 1149V1442.7H1223"/>
<path stroke="#111" stroke-width="1" d="M679 1442.1H683M679 1414.3H683M679 1386.4H683M679 1358.6H683M679 1330.8H683M679 1302.9H683M679 1275.1H683M679 1247.3H683M679 1219.5H683M679 1191.6H683M679 1163.8H683"/>
<g class="tke"><text x="677" y="1445.1">0.0</text><text x="677" y="1417.3">10</text><text x="677" y="1389.4">20</text><text x="677" y="1361.6">30</text><text x="677" y="1333.8">40</text><text x="677" y="1305.9">50</text><text x="677" y="1278.1">60</text><text x="677" y="1250.3">70</text><text x="677" y="1222.5">80</text><text x="677" y="1194.6">90</text><text x="677" y="1166.8">100</text></g>
<path stroke="#111" stroke-width="2" d="M748.1 1442V1446M821.3 1442V1446M894.5 1442V1446M967.7 1442V1446M1040.9 1442V1446M1114.1 1442V1446M1187.3 1442V1446M748.1 1487V1491M821.3 1487V1491M894.5 1487V1491M967.7 1487V1491M1040.9 1487V1491M1114.1 1487V1491M1187.3 1487V1491"/>
<g class="tkm"><text x="748.1" y="1455.4">500</text><text x="821.3" y="1455.4">1,000</text><text x="894.5" y="1455.4">1,500</text><text x="967.7" y="1455.4">2,000</text><text x="1040.9" y="1455.4">2,500</text><text x="1114.1" y="1455.4">3,000</text><text x="1187.3" y="1455.4">3,500</text>
<text x="748.1" y="1482.7">500</text><text x="821.3" y="1482.7">1,000</text><text x="894.5" y="1482.7">1,500</text><text x="967.7" y="1482.7">2,000</text><text x="1040.9" y="1482.7">2,500</text><text x="1114.1" y="1482.7">3,000</text><text x="1187.3" y="1482.7">3,500</text></g>
<text class="mz" x="936.5" y="1469.7">m/z</text>
<text class="ttl" transform="translate(650,1296) rotate(-90)">Relative Abundance (%)</text>
<text class="ttl" transform="translate(650,1528) rotate(-90)">Error (ppm)</text>
<line class="zt" x1="684" y1="1528.3" x2="1221" y2="1528.3"/>
<line class="zl" x1="684" y1="1528.3" x2="1221" y2="1528.3"/>
<rect class="bx" x="683" y="1491" width="539" height="75"/>
<path class="ax" d="M683 1488V1567"/>
<g class="tke"><text x="677" y="1496.8">10</text><text x="677" y="1514">5</text><text x="677" y="1531.3">0</text><text x="677" y="1548.5">-5</text><text x="677" y="1565.8">-10</text></g>
<g transform="translate(612,1071.6) scale(0.39,0.3167)">
<ellipse class="G" cx="301" cy="1462" rx="8.5" ry="10.5"/><ellipse class="R" cx="384" cy="1462" rx="8.5" ry="10.5"/><ellipse class="R" cx="428" cy="1392" rx="8.5" ry="10.5"/><ellipse class="O" cx="421" cy="1395" rx="8.5" ry="10.5"/><ellipse class="G" cx="437" cy="1363" rx="8.5" ry="10.5"/><ellipse class="G" cx="487" cy="1447" rx="8.5" ry="10.5"/><ellipse class="G" cx="585" cy="1458" rx="8.5" ry="10.5"/><ellipse class="G" cx="622" cy="1505" rx="8.5" ry="10.5"/><ellipse class="S" cx="638" cy="1523" rx="8.5" ry="10.5"/><ellipse class="L" cx="684" cy="1469" rx="8.5" ry="10.5"/><ellipse class="G" cx="693" cy="1482" rx="8.5" ry="10.5"/><ellipse class="S" cx="751" cy="1510" rx="8.5" ry="10.5"/><ellipse class="R" cx="776" cy="1373" rx="8.5" ry="10.5"/><ellipse class="K" cx="845" cy="1368" rx="8.5" ry="10.5"/><ellipse class="LG" cx="1055" cy="1405" rx="8.5" ry="10.5"/><ellipse class="R" cx="1073" cy="1373" rx="8.5" ry="10.5"/><ellipse class="L" cx="1209" cy="1490" rx="8.5" ry="10.5"/><ellipse class="G" cx="1410" cy="1400" rx="8.5" ry="10.5"/><ellipse class="K" cx="1530" cy="1479" rx="8.5" ry="10.5"/>
</g>
</svg>
</body></html>
